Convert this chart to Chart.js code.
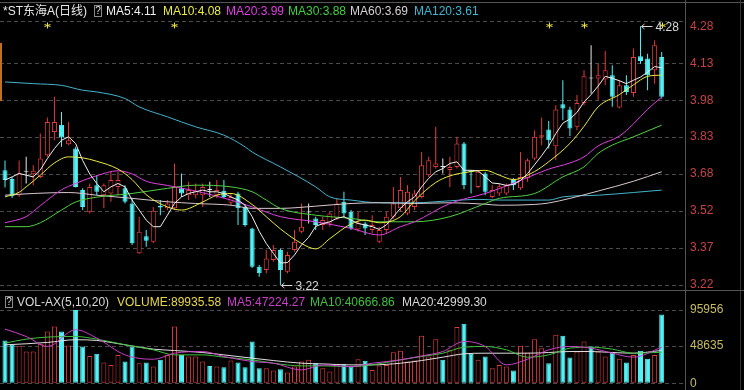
<!DOCTYPE html>
<html><head><meta charset="utf-8">
<script src="https://cdn.jsdelivr.net/npm/chart.js@4.4.1/dist/chart.umd.min.js"></script>
<style>
html,body{margin:0;padding:0;background:#000;}
#wrap{position:relative;width:744px;height:390px;overflow:hidden;background:#000;font-family:"Liberation Sans",Arial,"Noto Sans CJK SC",sans-serif;font-size:12px;}
canvas{position:absolute;left:0;}
.t{position:absolute;white-space:nowrap;line-height:14px;}
.q{position:absolute;box-sizing:border-box;border:1px solid #8a8a8a;color:#e0e0e0;font-size:10px;line-height:9px;text-align:center;}
.ln{position:absolute;background:#555;}
</style></head><body>
<div id="wrap">
<canvas id="pc" width="744" height="290" style="top:0"></canvas>
<canvas id="vc" width="744" height="100" style="top:290px"></canvas>
<div class="ln" style="left:0;top:2px;width:744px;height:1px"></div>
<div class="ln" style="left:685px;top:0;width:1px;height:390px"></div>
<div class="ln" style="left:740px;top:0;width:1px;height:390px;background:#333"></div>
<div class="ln" style="left:0;top:290px;width:744px;height:1px"></div>
<div class="ln" style="left:0;top:43px;width:2px;height:58px;background:#c07020"></div>

<span class="t" style="left:3px;top:4px;color:#e8e8e8">*ST东海A(日线)</span>
<div class="q" style="left:94px;top:5px;width:8px;height:12px">?</div>
<span class="t" style="left:106px;top:4px;color:#f0f0f0">MA5:4.11</span>
<span class="t" style="left:163px;top:4px;color:#ecec40">MA10:4.08</span>
<span class="t" style="left:226px;top:4px;color:#e040e0">MA20:3.99</span>
<span class="t" style="left:288px;top:4px;color:#40d040">MA30:3.88</span>
<span class="t" style="left:350px;top:4px;color:#d8d0d4">MA60:3.69</span>
<span class="t" style="left:414px;top:4px;color:#40b8d0">MA120:3.61</span>

<div class="q" style="left:5px;top:296px;width:8px;height:12px">?</div>
<span class="t" style="left:17px;top:295px;color:#d8d8d8">VOL-AX(5,10,20)</span>
<span class="t" style="left:117px;top:295px;color:#e8d848">VOLUME:89935.58</span>
<span class="t" style="left:227px;top:295px;color:#c840c8">MA5:47224.27</span>
<span class="t" style="left:310px;top:295px;color:#40c040">MA10:40666.86</span>
<span class="t" style="left:402px;top:295px;color:#d8d8d8">MA20:42999.30</span>
</div>
<script>
const opens = [3.69,3.654,3.588,3.684,3.674,3.663,3.752,3.847,3.877,3.797,
3.779,3.609,3.52,3.629,3.588,3.595,3.622,3.616,3.554,3.35,
3.42,3.397,3.545,3.534,3.534,3.616,3.588,3.588,3.588,3.609,
3.588,3.606,3.557,3.595,3.54,3.452,3.295,3.281,3.322,3.363,
3.274,3.363,3.438,3.517,3.493,3.466,3.472,3.493,3.561,3.52,
3.447,3.472,3.445,3.397,3.445,3.5,3.534,3.513,3.54,3.581,
3.67,3.704,3.704,3.691,3.704,3.8,3.688,3.622,3.677,3.581,
3.595,3.595,3.65,3.616,3.657,3.738,3.827,3.857,3.789,3.961,
3.939,3.868,3.966,4.066,4.066,4.062,4.079,3.947,4.038,4.007,
4.157,4.148,4.1,4.154];
const closes = [3.65,3.584,3.677,3.684,3.688,3.738,3.888,3.888,3.824,3.813,
3.622,3.54,3.622,3.602,3.629,3.65,3.65,3.561,3.391,3.438,
3.401,3.524,3.538,3.554,3.622,3.595,3.609,3.606,3.622,3.609,
3.609,3.581,3.581,3.534,3.466,3.295,3.268,3.329,3.363,3.281,
3.343,3.397,3.459,3.517,3.466,3.486,3.513,3.554,3.513,3.452,
3.475,3.452,3.466,3.445,3.5,3.554,3.609,3.602,3.595,3.711,
3.731,3.718,3.704,3.704,3.8,3.629,3.682,3.684,3.602,3.609,
3.625,3.629,3.629,3.663,3.731,3.827,3.834,3.813,3.939,3.943,
3.861,3.966,4.075,4.066,4.079,4.1,3.991,4.038,4.011,4.154,
4.138,4.079,4.202,3.991];
const highs = [3.73,3.663,3.73,3.745,3.711,3.841,3.906,3.991,3.929,3.888,
3.786,3.616,3.636,3.67,3.636,3.684,3.684,3.629,3.575,3.5,
3.445,3.54,3.568,3.568,3.718,3.677,3.643,3.636,3.636,3.643,
3.65,3.65,3.595,3.602,3.547,3.455,3.302,3.363,3.384,3.37,
3.356,3.445,3.554,3.554,3.5,3.5,3.52,3.575,3.602,3.527,
3.52,3.479,3.506,3.459,3.52,3.622,3.663,3.629,3.609,3.765,
3.745,3.868,3.738,3.745,3.827,3.806,3.691,3.691,3.684,3.629,
3.636,3.636,3.658,3.765,3.738,3.854,3.906,3.892,3.957,4.059,
3.95,3.998,4.1,4.202,4.128,4.179,4.12,4.059,4.079,4.189,
4.28,4.168,4.223,4.175];
const lows = [3.62,3.576,3.581,3.636,3.629,3.657,3.745,3.813,3.786,3.793,
3.62,3.527,3.513,3.588,3.534,3.561,3.588,3.554,3.384,3.347,
3.377,3.391,3.506,3.527,3.527,3.581,3.568,3.575,3.54,3.581,
3.575,3.575,3.547,3.466,3.459,3.29,3.254,3.268,3.315,3.22,
3.268,3.356,3.432,3.472,3.445,3.445,3.459,3.486,3.5,3.445,
3.438,3.425,3.432,3.391,3.432,3.493,3.52,3.506,3.527,3.575,
3.663,3.697,3.677,3.622,3.697,3.612,3.595,3.616,3.588,3.575,
3.585,3.588,3.609,3.609,3.643,3.731,3.793,3.779,3.731,3.895,
3.83,3.854,3.957,4.004,3.977,4.038,3.95,3.943,3.998,3.991,
4.127,4.018,4.045,3.984];
const volumes = [56100,50400,49100,41600,41600,51700,67900,74500,67900,49500,
95956,48200,35900,38600,27200,24100,37200,28500,48200,26300,
27200,21900,30700,37200,74500,37200,35100,35100,28500,22800,
21900,21000,29800,27200,21000,54800,19700,19700,16700,18400,
14000,21900,28500,30700,26300,19700,15300,25000,25000,21900,
31500,29400,17500,23200,24100,40800,42500,28500,29800,62200,
35100,57800,30700,43800,73600,78000,38600,30700,35100,19700,
24100,21900,16700,49100,40300,57800,46000,26300,63500,62200,
33700,41600,54800,48200,41600,35100,40300,32000,27200,37200,
42500,32000,37200,89935.58];

const ma5 = [3.65,3.663,3.677,3.67,3.663,3.691,3.738,3.779,3.813,3.827,
3.80,3.73,3.675,3.636,3.602,3.622,3.636,3.622,3.568,3.527,
3.486,3.459,3.459,3.506,3.554,3.581,3.595,3.602,3.609,3.602,
3.602,3.595,3.581,3.568,3.547,3.5,3.44,3.39,3.35,3.31,
3.312,3.343,3.385,3.415,3.46,3.472,3.479,3.493,3.5,3.486,
3.472,3.466,3.459,3.448,3.466,3.5,3.534,3.561,3.581,3.622,
3.657,3.684,3.697,3.718,3.725,3.69,3.69,3.688,3.663,3.638,
3.635,3.628,3.632,3.648,3.676,3.713,3.75,3.79,3.84,3.883,
3.9,3.927,3.97,4.0,4.035,4.075,4.067,4.057,4.045,4.059,
4.072,4.092,4.115,4.11];
const ma10Idx = [0,2,3,5,7,9,11,13,16,18,20,23,25,28,30,32,35,37,39,42,44,46,49,51,53,56,58,61,63,65,68,70,72,75,77,80,82,84,87,89,91,93];
const ma10 = [3.581,3.6,3.622,3.67,3.72,3.745,3.741,3.727,3.695,3.652,3.59,3.54,3.527,3.56,3.588,3.595,3.55,3.5,3.45,3.39,3.368,3.41,3.47,3.486,3.475,3.5,3.565,3.64,3.667,3.68,3.69,3.67,3.652,3.685,3.725,3.8,3.87,3.95,4.0,4.04,4.075,4.08];
const ma20Idx = [0,3,5,8,10,13,16,18,20,23,27,32,35,39,44,49,53,56,58,63,68,70,75,77,80,82,84,87,89,91,93];
const ma20 = [3.475,3.5,3.545,3.61,3.636,3.668,3.688,3.675,3.645,3.628,3.605,3.568,3.54,3.5,3.479,3.452,3.425,3.459,3.479,3.554,3.595,3.615,3.672,3.695,3.72,3.745,3.79,3.83,3.88,3.94,3.99];
const ma30Idx = [0,3,5,8,10,13,18,23,27,32,35,37,39,44,49,53,58,63,68,70,75,79,82,84,86,89,93];
const ma30 = [3.459,3.459,3.475,3.527,3.56,3.58,3.595,3.616,3.629,3.622,3.602,3.568,3.534,3.506,3.493,3.479,3.479,3.5,3.554,3.575,3.595,3.663,3.704,3.759,3.793,3.827,3.875];
const ma60Idx = [0,4,9,13,18,23,27,32,35,39,44,49,53,58,63,68,70,75,77,80,84,89,93];
const ma60 = [3.588,3.595,3.599,3.588,3.575,3.561,3.554,3.547,3.534,3.534,3.543,3.554,3.557,3.554,3.557,3.551,3.547,3.55,3.556,3.575,3.605,3.645,3.684];
const ma120Idx = [0,4,8,11,13,17,19,23,27,31,34,35,39,44,46,49,53,58,63,67,70,77,79,84,89,93];
const ma120 = [4.052,4.045,4.038,4.018,4.011,3.984,3.95,3.909,3.868,3.834,3.786,3.765,3.704,3.622,3.581,3.568,3.557,3.557,3.565,3.571,3.568,3.568,3.581,3.588,3.599,3.609];

const vmaIdx = [0,3,6,10,13,17,21,24,28,31,35,38,42,45,49,52,56,59,62,65,68,71,74,77,80,83,86,89,93];
const vma5 = [71000,61300,48200,70100,59200,37200,31500,39400,41600,35100,28500,26300,17500,24100,21900,26300,30700,35900,41600,54800,48200,24100,31500,43800,48200,46000,39400,34200,47224.27];
const vma10 = [52600,57800,60500,61300,57800,50400,43800,37200,37200,34200,30700,26300,22800,22800,21900,24100,30700,35100,39400,47300,48200,43800,34200,37200,46000,47300,44700,39400,40666.86];
const vma20 = [50400,51700,53500,57000,56100,50400,44700,42900,40300,37200,32900,29800,26300,25400,24100,24100,26300,29800,34200,38600,39400,39400,39400,40300,41600,41600,40300,39400,42999.30];

const priceTickLabels = ['3.22','3.37','3.52','3.68','3.83','3.98','4.13','4.28'];
const volTickLabels = ['0','48635','95956'];
const markerIdx = [6,24,77,82,93];

const RED = '#e03c3c', CYAN = '#54f0f4', WHITE = '#e8e8e8', BG = '#000000';
const dir = i => closes[i] > opens[i] ? 1 : (closes[i] < opens[i] ? -1 : 0);
const vdir = i => { const d = dir(i); if (d) return d; return (i > 0 && closes[i] < closes[i-1]) ? -1 : 1; };
const cCol = i => { const d = dir(i); return d > 0 ? RED : d < 0 ? CYAN : WHITE; };

const pts = (idx, vals) => vals.map((v, k) => ({x: idx[k], y: v}));
const lineDs = (data, color, tension) => ({type:'line', data, borderColor:color, borderWidth:1, pointRadius:0, tension:tension, cubicInterpolationMode: tension ? 'monotone' : 'default', fill:false, order:0});

const xScale = {type:'linear', min:-0.708, max:96.3, offset:false, display:false, grid:{display:false}};
const fontSpec = {family:'"Liberation Sans", Arial, sans-serif', size:12};

const marks = {
  id:'marks',
  afterDatasetsDraw(chart){
    const {ctx, chartArea} = chart; const x = chart.scales.x, y = chart.scales.y;
    ctx.save();
    ctx.strokeStyle = '#e8e040'; ctx.lineWidth = 1;
    markerIdx.forEach(i => {
      const px = Math.round(x.getPixelForValue(i)) + 0.5, py = chartArea.top + 4.5;
      ctx.beginPath();
      ctx.moveTo(px, py - 3); ctx.lineTo(px, py + 3);
      ctx.moveTo(px - 3, py - 1); ctx.lineTo(px + 3, py + 1);
      ctx.moveTo(px + 3, py - 1); ctx.lineTo(px - 3, py + 1);
      ctx.stroke();
    });
    ctx.strokeStyle = '#d8d8d8'; ctx.fillStyle = '#d8d8d8';
    ctx.font = '12px "Liberation Sans", Arial, sans-serif'; ctx.textBaseline = 'middle';
    const hi = Math.max(...highs), hiI = highs.indexOf(hi);
    const hx = x.getPixelForValue(hiI), hy = Math.round(y.getPixelForValue(hi)) + 0.5;
    ctx.beginPath(); ctx.moveTo(hx + 1, hy); ctx.lineTo(hx + 12, hy);
    ctx.moveTo(hx + 1, hy); ctx.lineTo(hx + 4, hy - 2.5); ctx.moveTo(hx + 1, hy); ctx.lineTo(hx + 4, hy + 2.5);
    ctx.stroke();
    ctx.fillText(hi.toFixed(2), hx + 15, hy + 1);
    const lo = Math.min(...lows), loI = lows.indexOf(lo);
    const lx = x.getPixelForValue(loI), ly = Math.round(y.getPixelForValue(lo)) + 0.5;
    ctx.beginPath(); ctx.moveTo(lx + 1, ly); ctx.lineTo(lx + 12, ly);
    ctx.moveTo(lx + 1, ly); ctx.lineTo(lx + 4, ly - 2.5); ctx.moveTo(lx + 1, ly); ctx.lineTo(lx + 4, ly + 2.5);
    ctx.stroke();
    ctx.fillText(lo.toFixed(2), lx + 15, ly + 1);
    ctx.restore();
  }
};

const lo = parseFloat(priceTickLabels[0]), hiT = parseFloat(priceTickLabels[priceTickLabels.length - 1]);
const step = (hiT - lo) / (priceTickLabels.length - 1);

new Chart(document.getElementById('pc'), {
  type:'bar',
  data:{datasets:[
    lineDs(ma5.map((v,i)=>({x:i,y:v})), '#f0f0f0', 0),
    lineDs(pts(ma10Idx, ma10), '#ecec40', 0.4),
    lineDs(pts(ma20Idx, ma20), '#e040e0', 0.4),
    lineDs(pts(ma30Idx, ma30), '#50d040', 0.4),
    lineDs(pts(ma60Idx, ma60), '#d8c8d0', 0.4),
    lineDs(pts(ma120Idx, ma120), '#44b4cc', 0.4),
    {label:'body', data: opens.map((o,i)=>({x:i, y:[o, closes[i]]})),
      backgroundColor: opens.map((o,i)=> dir(i) > 0 ? BG : cCol(i)),
      borderColor: opens.map((o,i)=> cCol(i)),
      borderWidth:1, borderSkipped:false, barThickness:5, grouped:false, minBarLength:1, inflateAmount:0, order:1},
    {label:'wick', data: lows.map((l,i)=>({x:i, y:[l, highs[i]]})),
      backgroundColor: lows.map((l,i)=> cCol(i)),
      borderWidth:0, barThickness:1, grouped:false, inflateAmount:0, order:2}
  ]},
  options:{
    responsive:false, animation:false, devicePixelRatio:1,
    layout:{padding:{top:21, bottom:0, left:0, right:0}},
    plugins:{legend:{display:false}, tooltip:{enabled:false}},
    scales:{
      x: xScale,
      y:{position:'right', min: lo - 5/37*step, max: hiT + 5.3/37*step, beginAtZero:false,
        afterBuildTicks: s => { const t = priceTickLabels.map((_,k)=>({value: lo + k*step})); t.push({value: s.max}); s.ticks = t; },
        afterFit: s => { s.width = 59; s.paddingTop = 0; s.paddingBottom = 0; },
        grid:{color: c => c.index === priceTickLabels.length - 1 ? 'rgba(0,0,0,0)' : '#4a4a4a', drawTicks:false, lineWidth:1},
        border:{display:false, dash:[4,3]},
        ticks:{color:'#c44444', padding:5, autoSkip:false, font:fontSpec, callback:(v,i)=> priceTickLabels[i] || ''}
      }
    }
  },
  plugins:[marks]
});

new Chart(document.getElementById('vc'), {
  type:'bar',
  data:{datasets:[
    lineDs(pts(vmaIdx, vma5), '#c840c8', 0.4),
    lineDs(pts(vmaIdx, vma10), '#40c040', 0.4),
    lineDs(pts(vmaIdx, vma20), '#e0e0e0', 0.4),
    {label:'vol', data: volumes.map((v,i)=>({x:i, y:v})),
      backgroundColor: volumes.map((v,i)=> vdir(i) > 0 ? BG : CYAN),
      borderColor: volumes.map((v,i)=> vdir(i) > 0 ? RED : CYAN),
      borderWidth:1, borderSkipped:false, barThickness:5, grouped:false, inflateAmount:0, order:1}
  ]},
  options:{
    responsive:false, animation:false, devicePixelRatio:1,
    layout:{padding:{top:20, bottom:6.7, left:0, right:0}},
    plugins:{legend:{display:false}, tooltip:{enabled:false}},
    scales:{
      x: xScale,
      y:{position:'right', min:0, max: parseFloat(volTickLabels[2]), beginAtZero:true,
        afterBuildTicks: s => { s.ticks = volTickLabels.map(l => ({value: parseFloat(l)})); },
        afterFit: s => { s.width = 59; s.paddingTop = 0; s.paddingBottom = 0; },
        grid:{color:'#4a4a4a', drawTicks:false, lineWidth:1},
        border:{display:false, dash:[4,3]},
        ticks:{color:'#c8bc60', padding:5, autoSkip:false, font:fontSpec, callback:(v,i)=> volTickLabels[i]}
      }
    }
  }
});
</script>
</body></html>
